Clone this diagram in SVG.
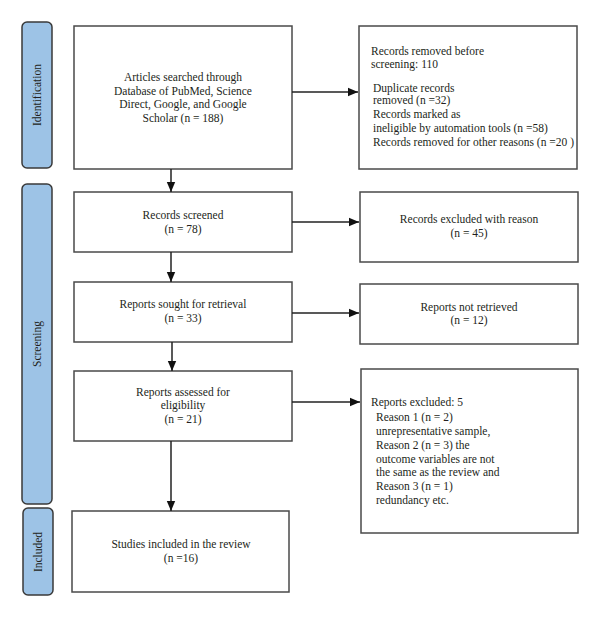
<svg xmlns="http://www.w3.org/2000/svg" width="600" height="617" viewBox="0 0 600 617">
<style>
.box{fill:#fff;stroke:#4a4a4a;stroke-width:1.5}
.tab{fill:#9dc3e6;stroke:#3a3a3a;stroke-width:1.5}
text{font-family:"Liberation Serif","Times New Roman",serif;font-size:11.5px;fill:#231f20}
.c{text-anchor:middle}
.conn{stroke:#222;stroke-width:1.5;fill:none}
</style>
<defs>
<marker id="ah" markerUnits="userSpaceOnUse" markerWidth="10" markerHeight="10" viewBox="0 0 10 10" refX="10" refY="5" orient="auto">
<path d="M0,0.8 L10,5 L0,9.2 Z" fill="#111"/>
</marker>
</defs>
<rect width="600" height="617" fill="#fff"/>
<g id="tab-identification"><rect class="tab" x="22" y="22" width="30" height="146" rx="5"/><text class="c" transform="translate(41,95) rotate(-90)">Identification</text></g>
<g id="tab-screening"><rect class="tab" x="22" y="184" width="30" height="320" rx="5"/><text class="c" transform="translate(41,344) rotate(-90)">Screening</text></g>
<g id="tab-included"><rect class="tab" x="23" y="508" width="30" height="87" rx="5"/><text class="c" transform="translate(42,552) rotate(-90)">Included</text></g>
<g id="n-articles"><rect class="box" x="74" y="26" width="218" height="143"/>
<text class="c" x="183" y="81">Articles searched through</text>
<text class="c" x="183" y="95">Database of PubMed, Science</text>
<text class="c" x="183" y="108">Direct, Google, and Google</text>
<text class="c" x="183" y="122">Scholar (n = 188)</text></g>
<g id="n-removed"><rect class="box" x="359" y="26" width="218" height="143"/>
<text x="371" y="55">Records removed before</text>
<text x="371" y="68">screening: 110</text>
<text x="373" y="92">Duplicate records</text>
<text x="373" y="104">removed (n =32)</text>
<text x="373" y="118">Records marked as</text>
<text x="373" y="132">ineligible by automation tools (n =58)</text>
<text x="373" y="146">Records removed for other reasons (n =20 )</text></g>
<g id="n-screened"><rect class="box" x="74" y="192" width="218" height="60"/>
<text class="c" x="183" y="219">Records screened</text>
<text class="c" x="183" y="233">(n = 78)</text></g>
<g id="n-excluded"><rect class="box" x="360" y="192" width="218" height="70"/>
<text class="c" x="469" y="223">Records excluded with reason</text>
<text class="c" x="469" y="237">(n = 45)</text></g>
<g id="n-sought"><rect class="box" x="74" y="282" width="218" height="60"/>
<text class="c" x="183" y="308">Reports sought for retrieval</text>
<text class="c" x="183" y="322">(n = 33)</text></g>
<g id="n-notretrieved"><rect class="box" x="360" y="284" width="218" height="60"/>
<text class="c" x="469" y="311">Reports not retrieved</text>
<text class="c" x="469" y="324">(n = 12)</text></g>
<g id="n-assessed"><rect class="box" x="74" y="371" width="218" height="70"/>
<text class="c" x="183" y="396">Reports assessed for</text>
<text class="c" x="183" y="409">eligibility</text>
<text class="c" x="183" y="423">(n = 21)</text></g>
<g id="n-reportsexcluded"><rect class="box" x="361" y="369" width="217" height="164"/>
<text x="371" y="406">Reports excluded: 5</text>
<text x="376" y="421">Reason 1 (n = 2)</text>
<text x="376" y="435">unrepresentative sample,</text>
<text x="376" y="449">Reason 2 (n = 3) the</text>
<text x="376" y="463">outcome variables are not</text>
<text x="376" y="476">the same as the review and</text>
<text x="376" y="490">Reason 3 (n = 1)</text>
<text x="376" y="504">redundancy etc.</text></g>
<g id="n-included"><rect class="box" x="72" y="511" width="217" height="81"/>
<text class="c" x="181" y="548">Studies included in the review</text>
<text class="c" x="181" y="562">(n =16)</text></g>
<g id="connectors">
<line class="conn" x1="171" y1="169" x2="171" y2="192" marker-end="url(#ah)"/>
<line class="conn" x1="171" y1="252" x2="171" y2="282" marker-end="url(#ah)"/>
<line class="conn" x1="172" y1="342" x2="172" y2="371" marker-end="url(#ah)"/>
<line class="conn" x1="171" y1="441" x2="171" y2="511" marker-end="url(#ah)"/>
<line class="conn" x1="292" y1="92" x2="358" y2="92" marker-end="url(#ah)"/>
<line class="conn" x1="292" y1="222" x2="359" y2="222" marker-end="url(#ah)"/>
<line class="conn" x1="292" y1="313" x2="359" y2="313" marker-end="url(#ah)"/>
<line class="conn" x1="292" y1="402" x2="360" y2="402" marker-end="url(#ah)"/>
</g>
</svg>
